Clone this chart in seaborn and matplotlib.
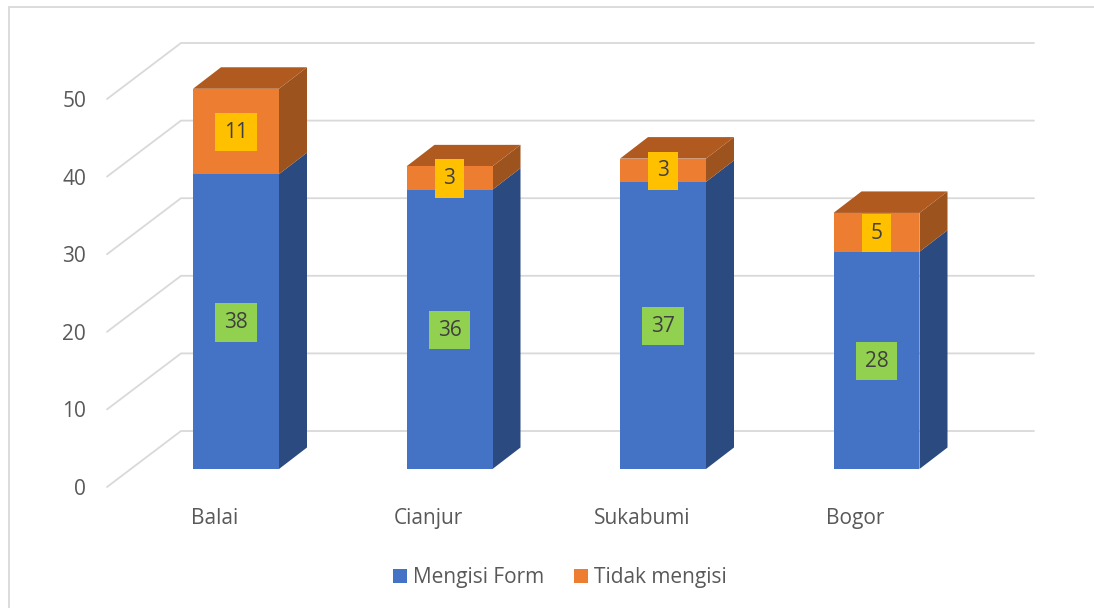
"""Stacked 3-D style column chart: form completion per location."""

import matplotlib
matplotlib.use("Agg")
import matplotlib.pyplot as plt
import numpy as np
import pandas as pd
import seaborn as sns
from matplotlib.patches import Polygon, Rectangle
from matplotlib.transforms import ScaledTranslation

# ---------------------------------------------------------------------------
# Data
# ---------------------------------------------------------------------------
lokasi = ["Balai", "Cianjur", "Sukabumi", "Bogor"]
mengisi_form = [38, 36, 37, 28]
tidak_mengisi = [11, 3, 3, 5]
y_ticks = [0, 10, 20, 30, 40, 50]

df = pd.DataFrame({"lokasi": lokasi, "mengisi": mengisi_form, "tidak": tidak_mengisi})

# ---------------------------------------------------------------------------
# Style and layout (pixel sizes of the target image)
# ---------------------------------------------------------------------------
W, H, DPI = 1094, 608, 100
PX_PER_CAT = 213.5
PX_PER_UNIT = 7.76
BAR_PX = 86

BLUE, BLUE_SIDE = "#4472C4", "#2B4A80"
ORANGE, ORANGE_SIDE, ORANGE_TOP = "#ED7D31", "#9C531D", "#B05A20"
GRID = "#D9D9D9"
TEXT = "#595959"

sns.set_theme(style="white")
plt.rcParams["font.family"] = ["Open Sans", "DejaVu Sans"]

fig = plt.figure(figsize=(W / DPI, H / DPI), dpi=DPI, facecolor="white")

# Axes: left edge is the front of the wall, bottom edge is the front of the floor
left, right, top, bottom = 107, 1034, 42, 487
ax = fig.add_axes([left / W, 1 - bottom / H, (right - left) / W, (bottom - top) / H])
ax.patch.set_alpha(0)

sns.barplot(data=df, x="lokasi", y="mengisi", color=BLUE, saturation=1,
            width=BAR_PX / PX_PER_CAT, errorbar=None, label="Mengisi Form",
            linewidth=0, zorder=3, ax=ax)
sns.barplot(data=df, x="lokasi", y="tidak", bottom=df["mengisi"], color=ORANGE,
            saturation=1, width=BAR_PX / PX_PER_CAT, errorbar=None,
            label="Tidak mengisi", linewidth=0, zorder=3, ax=ax)

ax.set_xlim((left - 236) / PX_PER_CAT, (right - 236) / PX_PER_CAT)
ax.set_ylim(-(bottom - 469) / PX_PER_UNIT, (469 - top) / PX_PER_UNIT)

# depth of the bars and of the wall, in data units
bar_dx, bar_dy = 28 / PX_PER_CAT, 21.5 / PX_PER_UNIT
wall_x0 = ax.get_xlim()[0]
wall_dx, wall_dy = 74 / PX_PER_CAT, 56 / PX_PER_UNIT
floor = ax.get_ylim()[0]

# gridlines on the back wall plus the diagonals on the side wall
for v in y_ticks:
    ax.plot([wall_x0, wall_x0 + wall_dx, ax.get_xlim()[1]],
            [floor + v, floor + v + wall_dy, floor + v + wall_dy],
            color=GRID, lw=1.3, zorder=1, clip_on=False, solid_joinstyle="miter")

# side and top faces taken from the bars that seaborn drew
for cont, side_col in zip(ax.containers, [BLUE_SIDE, ORANGE_SIDE]):
    for patch in cont:
        x1 = patch.get_x() + patch.get_width()
        y0, y1 = patch.get_y(), patch.get_y() + patch.get_height()
        ax.add_patch(Polygon([(x1, y0), (x1 + bar_dx, y0 + bar_dy),
                              (x1 + bar_dx, y1 + bar_dy), (x1, y1)],
                             closed=True, fc=side_col, ec="none", zorder=2.5))
for patch in ax.containers[1]:
    x0, x1 = patch.get_x(), patch.get_x() + patch.get_width()
    y1 = patch.get_y() + patch.get_height()
    ax.add_patch(Polygon([(x0, y1), (x1, y1), (x1 + bar_dx, y1 + bar_dy),
                          (x0 + bar_dx, y1 + bar_dy)],
                         closed=True, fc=ORANGE_TOP, ec="none", zorder=2.5))

# data labels
labels_a = ax.bar_label(ax.containers[0], label_type="center", fontsize=15, color="#404040",
                        zorder=5, bbox=dict(boxstyle="square,pad=0.42", fc="#92D050", ec="none"))
labels_b = ax.bar_label(ax.containers[1], label_type="center", fontsize=15, color="#404040",
                        zorder=5, bbox=dict(boxstyle="square,pad=0.42", fc="#FFC000", ec="none"))
for lab in list(labels_a) + list(labels_b):
    lab.xyann = (0, -0.5)

# ticks: labels belong to the front plane, so shift them off the bar baseline
ax.set_xlabel("")
ax.set_ylabel("")
ax.set_yticks(y_ticks)
ax.tick_params(axis="both", length=0, labelsize=15, labelcolor=TEXT)
ax.tick_params(axis="y", pad=15)
ax.tick_params(axis="x", pad=15)
for lab in ax.get_yticklabels():
    lab.set_transform(lab.get_transform() + ScaledTranslation(0, -18 / DPI, fig.dpi_scale_trans))
for lab in ax.get_xticklabels():
    lab.set_transform(lab.get_transform() + ScaledTranslation(-21 / DPI, 0, fig.dpi_scale_trans))
sns.despine(ax=ax, left=True, bottom=True)

handles, labels = ax.get_legend_handles_labels()
ax.legend(handles, labels, loc="center", ncol=2, frameon=False, fontsize=15,
          labelcolor=TEXT, handlelength=0.67, handleheight=0.67, handletextpad=0.3,
          columnspacing=1.45, bbox_to_anchor=(560 / W, 1 - 578 / H),
          bbox_transform=fig.transFigure)

# chart frame
fig.add_artist(Rectangle((8.5 / W, -0.1), 1.2, 1.1 - 6.5 / H, transform=fig.transFigure,
                         fill=False, ec=GRID, lw=1.3))

fig.savefig("out.png", dpi=DPI)
